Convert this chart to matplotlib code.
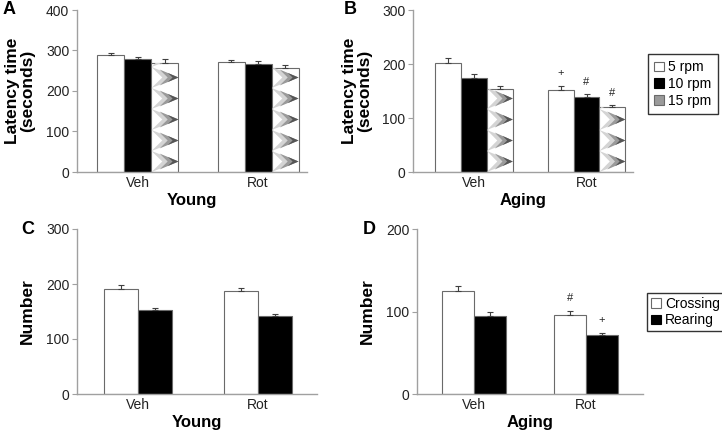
import numpy as np
import matplotlib
matplotlib.use("Agg")
import matplotlib.pyplot as plt
from matplotlib.patches import Polygon, Patch

plt.rcParams["font.family"] = ["Liberation Sans", "DejaVu Sans"]

# ---- data ----
groups = ["Veh", "Rot"]

young_lat_5 = [289, 272]
young_lat_5_err = [4, 5]
young_lat_10 = [278, 267]
young_lat_10_err = [7, 6]
young_lat_15 = [269, 256]
young_lat_15_err = [9, 7]

aging_lat_5 = [202, 152]
aging_lat_5_err = [10, 8]
aging_lat_10 = [174, 138]
aging_lat_10_err = [8, 6]
aging_lat_15 = [153, 120]
aging_lat_15_err = [7, 4]

young_cross = [191, 188]
young_cross_err = [7, 5]
young_rear = [152, 141]
young_rear_err = [4, 4]

aging_cross = [125, 96]
aging_cross_err = [6, 5]
aging_rear = [94, 71]
aging_rear_err = [5, 3]

# significance marks: (series index, group index, symbol)
marks_B = [(0, 1, "+"), (1, 1, "#"), (2, 1, "#")]
marks_D = [(0, 1, "#"), (1, 1, "+")]

SPINE = "#a0a0a0"
EDGE = "#6a6a6a"
ERR = "#404040"


def zigzag_fill(ax, bar, period_px=21):
    """Grey arrow-head pattern clipped to the bar (mimics the 15 rpm fill)."""
    x0, w, h = bar.get_x(), bar.get_width(), bar.get_height()
    ax_h_px = ax.get_window_extent().height
    y0_, y1_ = ax.get_ylim()
    p = period_px * (y1_ - y0_) / ax_h_px
    y = 0.0
    while y < h:
        layers = [
            ([(x0, y), (x0 + w, y + 0.5 * p), (x0, y + p), (x0 + 0.4 * w, y + 0.5 * p)], "#d4d4d4"),
            ([(x0 + 0.3 * w, y + 0.12 * p), (x0 + w, y + 0.5 * p),
              (x0 + 0.3 * w, y + 0.88 * p), (x0 + 0.6 * w, y + 0.5 * p)], "#9a9a9a"),
            ([(x0 + 0.6 * w, y + 0.28 * p), (x0 + w, y + 0.5 * p),
              (x0 + 0.6 * w, y + 0.72 * p), (x0 + 0.78 * w, y + 0.5 * p)], "#555555"),
        ]
        for pts, col in layers:
            poly = Polygon(pts, closed=True, facecolor=col, edgecolor="none", zorder=2)
            ax.add_patch(poly)
            poly.set_clip_path(bar)
        y += p


def panel(ax, series, errs, styles, width, ylim, yticks, xlim, xlabel, ylabel, label_x):
    n = len(series)
    x = np.arange(len(groups))
    bars_all = []
    for i, (vals, err, st) in enumerate(zip(series, errs, styles)):
        pos = x + (i - (n - 1) / 2) * width
        bars = ax.bar(pos, vals, width, color="white" if st != "black" else "black",
                      edgecolor=EDGE, linewidth=0.8, zorder=1)
        ax.errorbar(pos, vals, yerr=[np.zeros(len(err)), err], fmt="none",
                    ecolor=ERR, elinewidth=0.8, capsize=2.5, capthick=0.8, zorder=3)
        bars_all.append((bars, pos, st))
    ax.set_xlim(*xlim)
    ax.set_ylim(*ylim)
    ax.set_yticks(yticks)
    ax.set_xticks(x)
    ax.set_xticklabels(groups)
    for s in ("top", "right"):
        ax.spines[s].set_visible(False)
    for s in ("left", "bottom"):
        ax.spines[s].set_color(SPINE)
        ax.spines[s].set_linewidth(1.0)
    ax.tick_params(axis="y", length=3.5, color=SPINE, labelsize=10, pad=2, labelcolor="#222222")
    ax.tick_params(axis="x", length=0, labelsize=10, pad=3, labelcolor="#222222")
    ax.set_xlabel(xlabel, fontsize=12, fontweight="bold", labelpad=2)
    ax.set_ylabel(ylabel, fontsize=12.5, fontweight="bold", linespacing=1.0)
    ax.yaxis.set_label_coords(label_x, 0.5)
    return bars_all


fig = plt.figure(figsize=(7.22, 4.36), dpi=100)
W, H = 722.0, 436.0


def add_axes(x0, x1, ytop, ybot):
    return fig.add_axes([x0 / W, (H - ybot) / H, (x1 - x0) / W, (ybot - ytop) / H])


axA = add_axes(77, 307, 10, 172)
axB = add_axes(413, 633, 10, 172)
axC = add_axes(77, 317, 229, 394)
axD = add_axes(417, 643, 229, 394)

lat_styles = ["white", "black", "zig"]
bA = panel(axA, [young_lat_5, young_lat_10, young_lat_15],
           [young_lat_5_err, young_lat_10_err, young_lat_15_err], lat_styles,
           0.225, (0, 400), [0, 100, 200, 300, 400], (-0.508, 1.408),
           "Young", "Latency time\n(seconds)", -0.183)
bB = panel(axB, [aging_lat_5, aging_lat_10, aging_lat_15],
           [aging_lat_5_err, aging_lat_10_err, aging_lat_15_err], lat_styles,
           0.23, (0, 300), [0, 100, 200, 300], (-0.542, 1.413),
           "Aging", "Latency time\n(seconds)", -0.186)
bC = panel(axC, [young_cross, young_rear], [young_cross_err, young_rear_err],
           ["white", "black"], 0.283, (0, 300), [0, 100, 200, 300], (-0.508, 1.49),
           "Young", "Number", -0.175)
bD = panel(axD, [aging_cross, aging_rear], [aging_cross_err, aging_rear_err],
           ["white", "black"], 0.286, (0, 200), [0, 100, 200], (-0.509, 1.51),
           "Aging", "Number", -0.186)

for ax, bl in ((axA, bA), (axB, bB)):
    for bars, pos, st in bl:
        if st == "zig":
            for b in bars:
                zigzag_fill(ax, b)


def add_marks(ax, series, errs, bl, marks):
    for si, gi, sym in marks:
        top = series[si][gi] + errs[si][gi]
        ax.annotate(sym, (bl[si][1][gi], top), xytext=(0, 9), textcoords="offset points",
                    ha="center", va="center", fontsize=8, color="#222222")


add_marks(axB, [aging_lat_5, aging_lat_10, aging_lat_15],
          [aging_lat_5_err, aging_lat_10_err, aging_lat_15_err], bB, marks_B)
add_marks(axD, [aging_cross, aging_rear], [aging_cross_err, aging_rear_err], bD, marks_D)

# legends
hB = [Patch(facecolor="white", edgecolor=EDGE, lw=0.8),
      Patch(facecolor="black", edgecolor="black", lw=0.8),
      Patch(facecolor="#9a9a9a", edgecolor=EDGE, lw=0.8)]
legB = fig.legend(hB, ["5 rpm", "10 rpm", "15 rpm"], loc="upper left",
                  bbox_to_anchor=(648 / W, 1 - 54 / H), fontsize=10, frameon=True,
                  fancybox=False, edgecolor="black", handlelength=0.7, handleheight=0.7,
                  handletextpad=0.3, borderpad=0.45, labelspacing=0.2, borderaxespad=0)
legB.get_frame().set_linewidth(1.0)
hD = [Patch(facecolor="white", edgecolor=EDGE, lw=0.8),
      Patch(facecolor="black", edgecolor="black", lw=0.8)]
legD = fig.legend(hD, ["Crossing", "Rearing"], loc="upper left",
                  bbox_to_anchor=(647 / W, 1 - 293 / H), fontsize=10, frameon=True,
                  fancybox=False, edgecolor="black", handlelength=0.7, handleheight=0.7,
                  handletextpad=0.3, borderpad=0.3, labelspacing=0.15, borderaxespad=0)
legD.get_frame().set_linewidth(1.0)

# panel letters
for lab, x, y in (("A", 9, 9), ("B", 350, 9), ("C", 28, 230), ("D", 369, 230)):
    fig.text(x / W, 1 - y / H, lab, fontsize=13, fontweight="bold", ha="center", va="center")

fig.savefig("out.png", dpi=100)
